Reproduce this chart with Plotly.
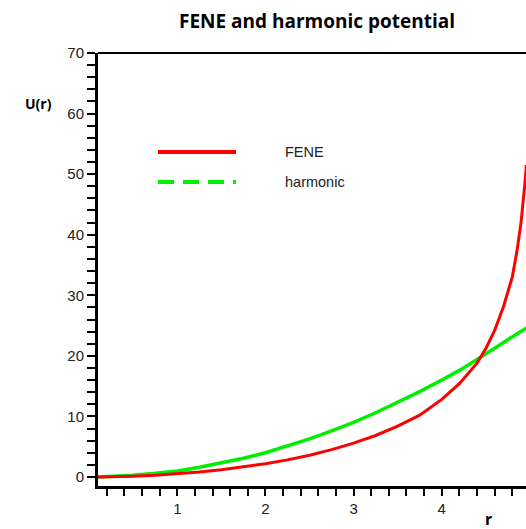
import plotly.graph_objects as go

# Values
r_vals = [0.10, 0.25, 0.50, 0.75, 1.00, 1.25, 1.50, 1.75, 2.00, 2.25, 2.50, 2.75,
          3.00, 3.25, 3.50, 3.75, 4.00, 4.20, 4.40, 4.50, 4.60, 4.70, 4.80, 4.85,
          4.90, 4.95, 4.96]
fene_vals = [0.0, 0.03, 0.13, 0.28, 0.51, 0.81, 1.18, 1.64, 2.18, 2.82, 3.60, 4.52,
             5.58, 6.85, 8.40, 10.2, 12.8, 15.4, 18.8, 21.2, 24.2, 28.1, 33.0, 37.0,
             42.0, 49.5, 51.5]
harm_vals = [0.0, 0.1, 0.3, 0.6, 1.0, 1.6, 2.3, 3.1, 4.0, 5.1, 6.3, 7.6,
             9.0, 10.6, 12.3, 14.1, 16.0, 17.6, 19.4, 20.3, 21.2, 22.1, 23.0, 23.5,
             24.0, 24.5, 24.6]
x_ticks = [1, 2, 3, 4]
y_ticks = [0, 10, 20, 30, 40, 50, 60, 70]
series_names = ["FENE", "harmonic"]
title_text = "FENE and harmonic potential"

RED = "#ff0000"
GREEN = "#00ee00"
W, H = 526, 529
L, R, T, B = 98, 0, 53, 529 - 486
pw, ph = W - L - R, H - T - B

def px(xpix):
    return (xpix - L) / pw

def py(ypix):
    return (H - B - ypix) / ph

fig = go.Figure()
fig.add_trace(go.Scatter(x=r_vals, y=harm_vals, mode="lines",
                         line=dict(color=GREEN, width=3.5), showlegend=False))
fig.add_trace(go.Scatter(x=r_vals, y=fene_vals, mode="lines",
                         line=dict(color=RED, width=3), showlegend=False))

tickfont = dict(family="Liberation Sans, Arial, sans-serif", size=15, color="#222")
fig.update_layout(
    width=W, height=H,
    margin=dict(l=L, r=R, t=T, b=B),
    plot_bgcolor="white", paper_bgcolor="white",
    showlegend=False,
    xaxis=dict(range=[0.10, 4.956], tickvals=x_ticks, ticks="outside", ticklen=7,
               tickwidth=2, tickcolor="black", showline=True, linewidth=3,
               linecolor="black", showgrid=False, zeroline=False, tickfont=tickfont,
               minor=dict(dtick=0.2, tick0=0, ticks="outside", ticklen=7,
                          tickwidth=2, tickcolor="black", showgrid=False)),
    yaxis=dict(range=[-1.49, 70], tickvals=y_ticks, ticks="outside", ticklen=8,
               tickwidth=2, tickcolor="black", showline=True, linewidth=3,
               linecolor="black", showgrid=False, zeroline=False, tickfont=tickfont,
               minor=dict(dtick=2, tick0=0, ticks="outside", ticklen=8,
                          tickwidth=2, tickcolor="black", showgrid=False)),
)

# top border
fig.add_shape(type="line", xref="paper", yref="paper", x0=0, x1=1, y0=1, y1=1,
              line=dict(color="black", width=2))

# legend drawn manually (line samples + labels)
fig.add_shape(type="line", xref="paper", yref="paper", x0=px(158), x1=px(236),
              y0=py(152), y1=py(152), line=dict(color=RED, width=4))
fig.add_shape(type="line", xref="paper", yref="paper", x0=px(158), x1=px(236),
              y0=py(182), y1=py(182), line=dict(color=GREEN, width=4, dash="16px,9px"))
legfont = dict(family="Liberation Sans, Arial, sans-serif", size=14.5, color="#222")
fig.add_annotation(xref="paper", yref="paper", x=px(283), y=py(152), text=series_names[0],
                   showarrow=False, xanchor="left", yanchor="middle", font=legfont)
fig.add_annotation(xref="paper", yref="paper", x=px(283), y=py(182), text=series_names[1],
                   showarrow=False, xanchor="left", yanchor="middle", font=legfont)

# title and axis labels
boldfont = "Open Sans, Lato, sans-serif"
fig.add_annotation(xref="paper", yref="paper", x=px(317), y=py(21),
                   text="<b>" + title_text + "</b>", showarrow=False,
                   xanchor="center", yanchor="middle",
                   font=dict(family=boldfont, size=19, color="black"))
fig.add_annotation(xref="paper", yref="paper", x=px(38), y=py(103),
                   text="<b>U(r)</b>", showarrow=False,
                   xanchor="center", yanchor="middle",
                   font=dict(family=boldfont, size=14, color="black"))
fig.add_annotation(xref="paper", yref="paper", x=px(488), y=py(519),
                   text="<b>r</b>", showarrow=False,
                   xanchor="center", yanchor="middle",
                   font=dict(family=boldfont, size=16, color="black"))

fig.write_html(
    "out.html",
    config={"displayModeBar": False},
    post_script="document.body.style.margin='0';document.body.style.overflow='hidden';",
)
